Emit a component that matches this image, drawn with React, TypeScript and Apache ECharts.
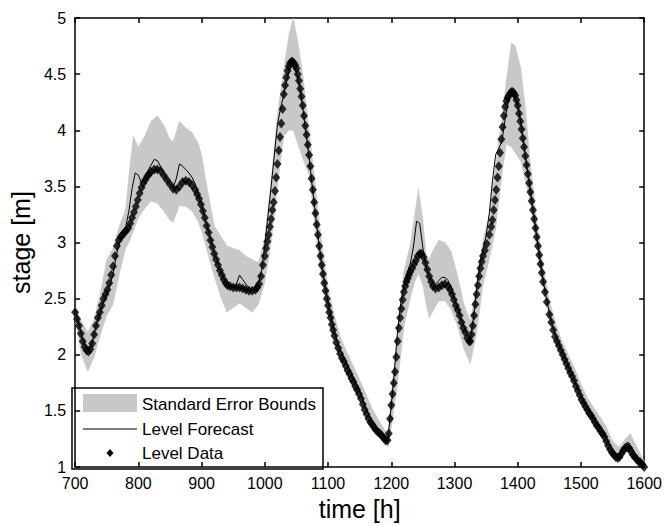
import React, { useEffect, useRef } from "react";
import * as echarts from "echarts";

// Level data (time [h], stage [m])
const levelData: [number, number][] = [
  [700, 2.38], [703, 2.32], [706, 2.26], [709, 2.19], [712, 2.12], [715, 2.07], [718, 2.04], [721, 2.03],
  [724, 2.05], [727, 2.1], [730, 2.18], [733, 2.26], [736, 2.33], [739, 2.38], [742, 2.44], [745, 2.5],
  [748, 2.54], [751, 2.58], [754, 2.64], [757, 2.71], [760, 2.79], [763, 2.88], [766, 2.97], [769, 3.02],
  [772, 3.05], [775, 3.07], [778, 3.09], [781, 3.11], [784, 3.13], [787, 3.17], [790, 3.22], [793, 3.27],
  [796, 3.32], [799, 3.38], [802, 3.44], [805, 3.49], [808, 3.53], [811, 3.56], [814, 3.59], [817, 3.61],
  [820, 3.63], [825, 3.65], [830, 3.65], [835, 3.64], [840, 3.6], [845, 3.56], [850, 3.52], [855, 3.48],
  [860, 3.47], [865, 3.5], [870, 3.54], [875, 3.55], [880, 3.54], [885, 3.51], [890, 3.47], [893, 3.43],
  [896, 3.39], [899, 3.34], [902, 3.28], [905, 3.22], [908, 3.15], [911, 3.09], [914, 3.02], [917, 2.96],
  [920, 2.9], [923, 2.85], [926, 2.8], [929, 2.75], [932, 2.71], [935, 2.67], [938, 2.64], [941, 2.62],
  [945, 2.61], [950, 2.6], [955, 2.6], [960, 2.6], [965, 2.59], [970, 2.58], [975, 2.57], [980, 2.57],
  [985, 2.58], [988, 2.6], [991, 2.63], [994, 2.7], [997, 2.8], [1000, 2.88], [1002, 2.95], [1004, 3.01],
  [1006, 3.07], [1008, 3.14], [1010, 3.21], [1012, 3.29], [1014, 3.36], [1016, 3.46], [1018, 3.58],
  [1020, 3.7], [1022, 3.82], [1024, 3.94], [1026, 4.06], [1028, 4.19], [1030, 4.32], [1032, 4.4],
  [1034, 4.47], [1036, 4.53], [1038, 4.57], [1040, 4.6], [1042, 4.61], [1044, 4.61], [1046, 4.6],
  [1048, 4.58], [1050, 4.55], [1052, 4.5], [1054, 4.44], [1056, 4.37], [1058, 4.3], [1060, 4.22],
  [1062, 4.13], [1064, 4.04], [1066, 3.96], [1068, 3.87], [1070, 3.78], [1072, 3.68], [1074, 3.57],
  [1076, 3.47], [1078, 3.36], [1080, 3.26], [1082, 3.16], [1084, 3.07], [1086, 2.97], [1088, 2.88],
  [1090, 2.8], [1092, 2.72], [1094, 2.64], [1096, 2.57], [1098, 2.5], [1100, 2.44], [1102, 2.38],
  [1104, 2.33], [1106, 2.27], [1108, 2.22], [1110, 2.17], [1113, 2.11], [1116, 2.06], [1119, 2.01],
  [1122, 1.97], [1125, 1.94], [1128, 1.9], [1131, 1.86], [1134, 1.83], [1137, 1.79], [1140, 1.76],
  [1143, 1.72], [1146, 1.69], [1149, 1.65], [1152, 1.61], [1155, 1.56], [1158, 1.51], [1161, 1.47],
  [1164, 1.43], [1167, 1.4], [1170, 1.38], [1173, 1.35], [1176, 1.33], [1179, 1.31], [1182, 1.3],
  [1185, 1.28], [1188, 1.26], [1191, 1.24], [1194, 1.24], [1196, 1.3], [1198, 1.43], [1200, 1.55],
  [1202, 1.65], [1204, 1.75], [1206, 1.85], [1208, 1.98], [1210, 2.12], [1212, 2.24], [1214, 2.33],
  [1216, 2.41], [1218, 2.49], [1220, 2.56], [1222, 2.61], [1224, 2.65], [1226, 2.68], [1228, 2.71],
  [1230, 2.74], [1233, 2.77], [1236, 2.81], [1239, 2.84], [1242, 2.88], [1245, 2.9], [1248, 2.9],
  [1251, 2.87], [1254, 2.82], [1257, 2.76], [1260, 2.7], [1263, 2.65], [1266, 2.61], [1270, 2.59],
  [1275, 2.6], [1280, 2.62], [1285, 2.63], [1290, 2.61], [1293, 2.58], [1296, 2.54], [1299, 2.49],
  [1302, 2.44], [1305, 2.4], [1308, 2.35], [1311, 2.29], [1314, 2.24], [1317, 2.2], [1320, 2.15],
  [1323, 2.12], [1325, 2.12], [1327, 2.18], [1329, 2.26], [1331, 2.35], [1333, 2.45], [1335, 2.54],
  [1337, 2.62], [1339, 2.7], [1341, 2.77], [1343, 2.83], [1345, 2.88], [1348, 2.93], [1351, 2.99],
  [1355, 3.07], [1358, 3.14], [1360, 3.2], [1362, 3.29], [1364, 3.38], [1366, 3.47], [1368, 3.58],
  [1370, 3.68], [1372, 3.8], [1374, 3.92], [1376, 4.03], [1378, 4.13], [1380, 4.21], [1382, 4.26],
  [1384, 4.29], [1386, 4.31], [1388, 4.33], [1390, 4.34], [1392, 4.34], [1394, 4.33], [1396, 4.31],
  [1398, 4.27], [1400, 4.22], [1402, 4.15], [1404, 4.08], [1406, 4.01], [1408, 3.93], [1410, 3.85],
  [1412, 3.77], [1414, 3.69], [1416, 3.61], [1418, 3.53], [1420, 3.45], [1422, 3.37], [1424, 3.29],
  [1426, 3.21], [1428, 3.13], [1430, 3.05], [1432, 2.97], [1434, 2.89], [1436, 2.81], [1438, 2.73],
  [1440, 2.65], [1443, 2.56], [1446, 2.47], [1450, 2.36], [1453, 2.29], [1456, 2.22], [1459, 2.16],
  [1462, 2.12], [1465, 2.08], [1468, 2.04], [1471, 2.0], [1474, 1.96], [1477, 1.92], [1480, 1.88],
  [1483, 1.84], [1486, 1.81], [1489, 1.77], [1492, 1.72], [1495, 1.68], [1498, 1.64], [1501, 1.6],
  [1504, 1.57], [1507, 1.54], [1510, 1.51], [1513, 1.48], [1516, 1.46], [1519, 1.43], [1522, 1.4],
  [1525, 1.37], [1528, 1.35], [1531, 1.32], [1534, 1.3], [1537, 1.27], [1540, 1.23], [1543, 1.19],
  [1546, 1.16], [1549, 1.13], [1552, 1.11], [1555, 1.09], [1558, 1.08], [1561, 1.09], [1564, 1.12],
  [1567, 1.15], [1570, 1.17], [1573, 1.18], [1576, 1.17], [1579, 1.14], [1582, 1.11], [1585, 1.09],
  [1588, 1.07], [1591, 1.05], [1594, 1.04], [1597, 1.02], [1600, 1.0],
];

// Level forecast (time [h], stage [m])
const forecastData: [number, number][] = [
  [700, 2.4], [705, 2.3], [710, 2.18], [715, 2.09], [720, 2.05], [725, 2.07], [730, 2.18], [735, 2.3],
  [740, 2.39], [745, 2.47], [750, 2.54], [755, 2.62], [760, 2.72], [765, 2.88], [770, 3.0], [775, 3.06],
  [780, 3.14], [785, 3.28], [790, 3.48], [795, 3.62], [800, 3.6], [805, 3.53], [810, 3.57], [815, 3.64],
  [820, 3.69], [825, 3.74], [830, 3.73], [835, 3.68], [840, 3.62], [845, 3.56], [850, 3.52], [855, 3.49],
  [860, 3.57], [865, 3.7], [870, 3.68], [875, 3.65], [880, 3.62], [885, 3.58], [890, 3.52], [895, 3.42],
  [900, 3.34], [905, 3.23], [910, 3.12], [915, 3.01], [920, 2.91], [925, 2.83], [930, 2.75], [935, 2.68],
  [940, 2.64], [945, 2.61], [950, 2.6], [955, 2.63], [960, 2.71], [965, 2.67], [970, 2.63], [975, 2.6],
  [980, 2.58], [985, 2.6], [990, 2.64], [995, 2.76], [1000, 2.98], [1005, 3.24], [1010, 3.5], [1015, 3.78],
  [1020, 4.05], [1025, 4.2], [1030, 4.32], [1035, 4.45], [1040, 4.55], [1045, 4.58], [1050, 4.52],
  [1055, 4.38], [1060, 4.2], [1065, 3.98], [1070, 3.76], [1075, 3.5], [1080, 3.25], [1085, 3.02],
  [1090, 2.81], [1095, 2.63], [1100, 2.47], [1105, 2.34], [1110, 2.21], [1115, 2.11], [1120, 2.04],
  [1125, 1.98], [1130, 1.92], [1135, 1.86], [1140, 1.8], [1145, 1.74], [1150, 1.68], [1155, 1.6],
  [1160, 1.52], [1165, 1.46], [1170, 1.41], [1175, 1.37], [1180, 1.34], [1185, 1.31], [1190, 1.27],
  [1195, 1.27], [1200, 1.55], [1205, 1.86], [1210, 2.22], [1215, 2.46], [1220, 2.63], [1225, 2.73],
  [1230, 2.81], [1235, 2.96], [1240, 3.19], [1245, 3.17], [1250, 2.95], [1255, 2.78], [1260, 2.69],
  [1265, 2.65], [1270, 2.63], [1275, 2.66], [1280, 2.69], [1285, 2.69], [1290, 2.66], [1295, 2.59],
  [1300, 2.5], [1305, 2.42], [1310, 2.33], [1315, 2.25], [1320, 2.17], [1325, 2.14], [1330, 2.33],
  [1335, 2.59], [1340, 2.81], [1345, 2.94], [1350, 3.06], [1355, 3.26], [1360, 3.55], [1365, 3.78],
  [1370, 3.84], [1375, 3.9], [1380, 4.1], [1385, 4.25], [1390, 4.32], [1395, 4.32], [1400, 4.23],
  [1405, 4.06], [1410, 3.86], [1415, 3.66], [1420, 3.46], [1425, 3.26], [1430, 3.06], [1435, 2.86],
  [1440, 2.67], [1445, 2.51], [1450, 2.38], [1455, 2.26], [1460, 2.17], [1465, 2.1], [1470, 2.03],
  [1475, 1.97], [1480, 1.9], [1485, 1.84], [1490, 1.77], [1495, 1.7], [1500, 1.63], [1505, 1.58],
  [1510, 1.53], [1515, 1.49], [1520, 1.44], [1525, 1.39], [1530, 1.35], [1535, 1.31], [1540, 1.26],
  [1545, 1.2], [1550, 1.15], [1555, 1.12], [1560, 1.11], [1565, 1.15], [1570, 1.2], [1575, 1.22],
  [1580, 1.18], [1585, 1.13], [1590, 1.09], [1595, 1.05], [1600, 1.02],
];

// Standard error bounds
const boundTimes = [
  700, 710, 720, 730, 740, 750, 760, 770, 780, 785, 792, 800, 810, 820, 830, 840, 850, 855, 865, 875,
  885, 895, 900, 910, 920, 930, 940, 950, 960, 970, 980, 990, 1000, 1010, 1020, 1030, 1038, 1045, 1052,
  1060, 1070, 1080, 1090, 1100, 1110, 1120, 1130, 1140, 1150, 1160, 1170, 1180, 1190, 1195, 1200, 1210,
  1220, 1230, 1237, 1243, 1250, 1255, 1260, 1265, 1275, 1285, 1295, 1305, 1315, 1325, 1335, 1345, 1355,
  1365, 1375, 1382, 1390, 1396, 1405, 1412, 1420, 1430, 1440, 1450, 1460, 1470, 1480, 1490, 1500, 1510,
  1520, 1530, 1540, 1550, 1560, 1570, 1578, 1585, 1595, 1600,
];
const boundLower = [
  2.32, 2.0, 1.85, 1.98, 2.18, 2.35, 2.45, 2.72, 2.95, 3.0, 3.1, 3.22, 3.3, 3.37, 3.35, 3.28, 3.2, 3.18,
  3.33, 3.32, 3.28, 3.18, 3.1, 2.9, 2.7, 2.52, 2.38, 2.42, 2.46, 2.42, 2.38, 2.45, 2.65, 3.0, 3.5, 3.95,
  4.0, 4.0, 3.88, 3.75, 3.6, 3.1, 2.65, 2.35, 2.1, 1.95, 1.82, 1.7, 1.6, 1.48, 1.37, 1.29, 1.2, 1.18,
  1.35, 1.75, 2.25, 2.5, 2.65, 2.72, 2.62, 2.45, 2.33, 2.38, 2.48, 2.48, 2.4, 2.25, 2.05, 1.92, 2.2,
  2.62, 2.85, 3.12, 3.6, 3.88, 3.85, 3.8, 3.72, 3.55, 3.35, 2.95, 2.6, 2.32, 2.12, 1.98, 1.85, 1.72,
  1.59, 1.49, 1.4, 1.3, 1.21, 1.1, 1.06, 1.13, 1.15, 1.07, 1.01, 0.99,
];
const boundUpper = [
  2.42, 2.3, 2.2, 2.32, 2.55, 2.85, 2.95, 3.15, 3.3, 3.6, 3.95, 3.85, 3.95, 4.08, 4.13, 4.05, 3.92, 3.9,
  4.08, 4.02, 3.98, 3.88, 3.78, 3.45, 3.15, 3.06, 2.97, 2.95, 2.93, 2.88, 2.85, 2.82, 3.05, 3.55, 4.15,
  4.55, 4.85, 5.0, 4.8, 4.5, 4.0, 3.5, 3.0, 2.6, 2.35, 2.15, 2.02, 1.9, 1.78, 1.65, 1.52, 1.42, 1.33,
  1.3, 1.65, 2.2, 2.75, 2.98, 3.25, 3.48, 3.2, 2.9, 2.85, 2.92, 3.02, 3.0, 2.92, 2.7, 2.45, 2.3, 2.65,
  3.02, 3.25, 3.7, 4.1, 4.45, 4.78, 4.75, 4.55, 4.2, 3.7, 3.2, 2.8, 2.48, 2.28, 2.12, 2.0, 1.88, 1.74,
  1.62, 1.53, 1.45, 1.36, 1.23, 1.18, 1.25, 1.3, 1.22, 1.1, 1.05,
];

const FONT = '"Liberation Sans", Arial, sans-serif';
const GRAY = "#c8c8c8";

export default function App() {
  const ref = useRef<HTMLDivElement>(null);
  useEffect(() => {
    if (!ref.current) return;
    const chart = echarts.init(ref.current, undefined, { renderer: "svg" });
    const axisLine = { show: true, onZero: false, lineStyle: { color: "#000", width: 1.5 } };
    const axisTick = { show: true, inside: true, length: 5, lineStyle: { color: "#000", width: 1.5 } };
    const labelStyle = { color: "#000", fontSize: 16, fontFamily: FONT };
    chart.setOption({
      animation: false,
      backgroundColor: "#fff",
      grid: { left: 72, top: 18, width: 575, height: 451, containLabel: false },
      xAxis: [
        {
          type: "value", min: 700, max: 1600, interval: 100, position: "bottom",
          axisLine, axisTick, splitLine: { show: false },
          axisLabel: { ...labelStyle, margin: 8, formatter: (v: number) => String(v) },
          name: "time [h]", nameLocation: "middle", nameGap: 25,
          nameTextStyle: { color: "#000", fontSize: 25, fontFamily: FONT, verticalAlign: "top" },
        },
        {
          type: "value", min: 700, max: 1600, interval: 100, position: "top",
          axisLine, axisTick, splitLine: { show: false }, axisLabel: { show: false },
        },
      ],
      yAxis: [
        {
          type: "value", min: 1, max: 5, interval: 0.5, position: "left",
          axisLine, axisTick, splitLine: { show: false },
          axisLabel: { ...labelStyle, margin: 9, formatter: (v: number) => String(v) },
          name: "stage [m]", nameLocation: "middle", nameGap: 42, nameRotate: 90,
          nameTextStyle: { color: "#000", fontSize: 25, fontFamily: FONT },
        },
        {
          type: "value", min: 1, max: 5, interval: 0.5, position: "right",
          axisLine, axisTick, splitLine: { show: false }, axisLabel: { show: false },
        },
      ],
      series: [
        {
          name: "Standard Error Bounds", type: "custom", silent: true, clip: true,
          data: boundTimes.map((t, i) => [t, boundLower[i], boundUpper[i]]),
          encode: { x: 0, y: [1, 2] },
          renderItem: (params: any, api: any) => {
            if (params.dataIndex !== 0) return null;
            const up = boundTimes.map((t, i) => api.coord([t, boundUpper[i]]));
            const lo = boundTimes.map((t, i) => api.coord([t, boundLower[i]])).reverse();
            return {
              type: "polygon",
              shape: { points: up.concat(lo) },
              style: { fill: GRAY, stroke: GRAY, lineWidth: 0.5 },
            };
          },
        },
        {
          name: "Level Forecast", type: "line", symbol: "none", silent: true,
          lineStyle: { color: "#000", width: 1 },
          data: forecastData,
        },
        {
          name: "Level Data", type: "scatter", symbol: "diamond", symbolSize: [8, 10], silent: true,
          itemStyle: { color: "#000" },
          data: levelData,
        },
      ],
      graphic: [
        {
          type: "group", z: 100,
          children: [
            { type: "rect", shape: { x: 72, y: 388, width: 251, height: 81 }, style: { fill: "#fff", stroke: "#000", lineWidth: 1.5 } },
            { type: "rect", shape: { x: 83, y: 394, width: 54, height: 18 }, style: { fill: GRAY } },
            { type: "line", shape: { x1: 83, y1: 429, x2: 137, y2: 429 }, style: { stroke: "#000", lineWidth: 1.2 } },
            { type: "polygon", shape: { points: [[110, 449], [113.5, 453], [110, 457], [106.5, 453]] }, style: { fill: "#000" } },
            { type: "text", x: 142, y: 404, style: { text: "Standard Error Bounds", font: `17px ${FONT}`, fill: "#000", verticalAlign: "middle" } },
            { type: "text", x: 142, y: 429, style: { text: "Level Forecast", font: `17px ${FONT}`, fill: "#000", verticalAlign: "middle" } },
            { type: "text", x: 142, y: 453, style: { text: "Level Data", font: `17px ${FONT}`, fill: "#000", verticalAlign: "middle" } },
          ],
        },
      ],
    });
    return () => chart.dispose();
  }, []);
  return (
    <div
      ref={ref}
      style={{ position: "absolute", left: 0, top: 0, width: 665, height: 526 }}
    />
  );
}
